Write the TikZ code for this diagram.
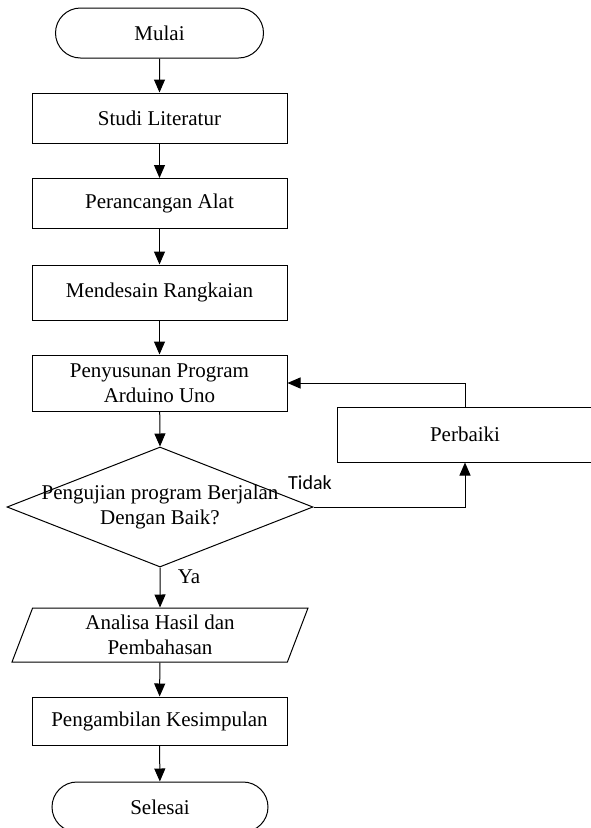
\documentclass[tikz,border=0pt]{standalone}
\usepackage{fontspec}
\setmainfont{Liberation Serif}
\newfontfamily\labelfont{Carlito}
\usepackage{tikz}
\usetikzlibrary{shapes.geometric,shapes.misc,arrows.meta}

\begin{document}
\begin{tikzpicture}[x=1pt,y=-1pt,
  line width=1pt,
  teks/.style={font=\fontsize{21}{25}\selectfont,align=center},
  proses/.style={rectangle,draw,teks,minimum width=255pt,minimum height=50pt,inner sep=0pt},
  terminal/.style={rounded rectangle,draw,teks,minimum width=208pt,minimum height=50pt,inner sep=0pt},
  keputusan/.style={diamond,draw,minimum width=306pt,minimum height=120pt,inner sep=0pt},
  masukan/.style={trapezium,trapezium left angle=62.6,trapezium right angle=117.4,trapezium stretches body,
    draw,teks,minimum width=296pt,minimum height=54pt,inner sep=0pt},
  panah/.style={-{Triangle[length=13pt,width=11pt]}}]

 \useasboundingbox (0,0) rectangle (590,828);

 \node at (159.5,33) [terminal] (mulai) {Mulai};
 \node at (159.5,118) [proses] (studi) {Studi Literatur};
 \node at (159.5,203.5) [proses] (rancang) {Perancangan Alat};
 \node at (159.5,292.5) [proses,minimum height=55pt] (desain) {Mendesain Rangkaian};
 \node at (159.5,383) [proses,minimum height=56pt] (program) {Penyusunan Program\\Arduino Uno};
 \node at (160,507) [keputusan] (uji) {};
 \node at (160,507) [teks] (ujiteks) {Pengujian program Berjalan\\Dengan Baik?};
 \node at (465,434.5) [proses,minimum height=55pt] (perbaiki) {Perbaiki};
 \node at (160,635) [masukan] (analisa) {Analisa Hasil dan\\Pembahasan};
 \node at (159.5,721) [proses,minimum height=48pt] (simpul) {Pengambilan Kesimpulan};
 \node at (160,807) [terminal,minimum width=216pt] (selesai) {Selesai};

 \node at (310,483) [font=\labelfont\fontsize{20}{24}\selectfont] (tidak) {Tidak};
 \node at (189,577) [teks] (ya) {Ya};

 \draw[panah] (mulai)--(studi); \draw[panah] (studi)--(rancang);
 \draw[panah] (rancang)--(desain); \draw[panah] (desain)--(program);
 \draw[panah] (program)--(uji.north); \draw[panah] (uji.south)--(analisa);
 \draw[panah] (analisa)--(simpul); \draw[panah] (simpul)--(selesai);
 \draw[panah] (uji.east) -| (perbaiki.south);
 \draw[panah] (perbaiki.north) |- (program.east);
\end{tikzpicture}
\end{document}
